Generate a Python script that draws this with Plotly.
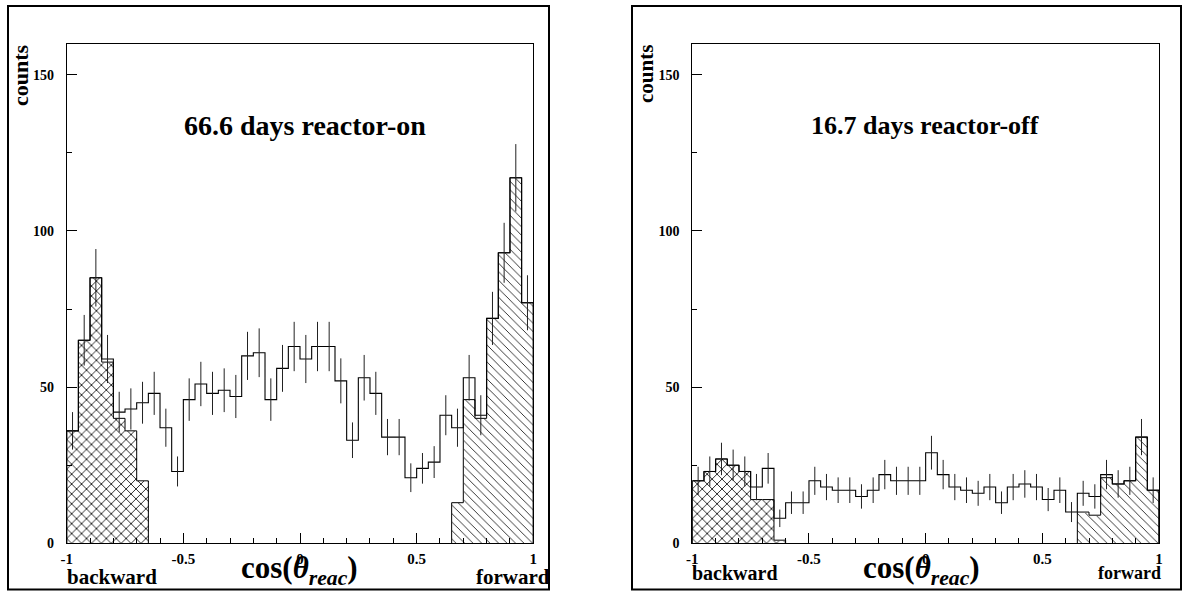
import numpy as np
import plotly.graph_objects as go

# ---------------- data ----------------
x_min, x_max, n_bins = -1.0, 1.0, 40
y_max = 160

# reactor-on (66.6 days): all events, per bin of cos(theta_reac)
on_counts = [36, 65, 85, 59, 42, 43, 45, 48, 37, 23,
             46, 51, 48, 49, 47, 60, 61, 46, 56, 63,
             59, 63, 63, 52, 33, 53, 48, 34, 34, 21,
             24, 26, 41, 37, 53, 41, 72, 93, 117, 77]
on_errors = [6.0, 8.1, 9.2, 7.7, 6.5, 6.6, 6.7, 6.9, 6.1, 4.8,
             6.8, 7.1, 6.9, 7.0, 6.9, 7.7, 7.8, 6.8, 7.5, 7.9,
             7.7, 7.9, 7.9, 7.2, 5.7, 7.3, 6.9, 5.8, 5.8, 4.6,
             4.9, 5.1, 6.4, 6.1, 7.3, 6.4, 8.5, 9.6, 10.8, 8.8]
on_backward = [36, 65, 85, 58, 40, 36, 20]          # first bins (cross-hatched)
on_forward = [13, 46, 40, 72, 93, 117, 77]          # last bins (hatched)

# reactor-off (16.7 days)
off_counts = [20, 23, 27, 25, 23, 18, 24, 8, 13, 13,
              20, 18, 17, 17, 15, 17, 22, 20, 20, 20,
              29, 22, 18, 17, 16, 18, 13, 18, 19, 18,
              14, 17, 10, 16, 15, 22, 19, 20, 34, 17]
off_errors = [4.5, 4.8, 5.2, 5.0, 4.8, 4.2, 4.9, 2.8, 3.6, 3.6,
              4.5, 4.2, 4.1, 4.1, 3.9, 4.1, 4.7, 4.5, 4.5, 4.5,
              5.4, 4.7, 4.2, 4.1, 4.0, 4.2, 3.6, 4.2, 4.4, 4.2,
              3.7, 4.1, 3.2, 4.0, 3.9, 4.7, 4.4, 4.5, 5.8, 4.1]
off_backward = [20, 23, 27, 25, 23, 14, 14, 1]
off_forward = [10, 9, 21, 19, 20, 34, 17]

x_tick_vals = [-1, -0.5, 0, 0.5, 1]
x_tick_text = ["-1", "-0.5", "0", "0.5", "1"]
y_tick_vals = [0, 50, 100, 150]
y_tick_text = ["0", "50", "100", "150"]
titles = ["66.6 days reactor-on", "16.7 days reactor-off"]

# ---------------- helpers ----------------
W, H = 1183, 591
SERIF = "Liberation Serif"
edges = np.linspace(x_min, x_max, n_bins + 1)
centers = 0.5 * (edges[:-1] + edges[1:])
bw = edges[1] - edges[0]


def step_xy(e, v):
    xs = [e[0]] + list(e[:-1]) + [e[-1], e[-1]]
    ys = [0] + list(v) + [v[-1], 0]
    return xs, ys


fig = go.Figure()

panels = [
    dict(xa="x", ya="y", counts=on_counts, errors=on_errors,
         back=on_backward, fwd=on_forward),
    dict(xa="x2", ya="y2", counts=off_counts, errors=off_errors,
         back=off_backward, fwd=off_forward),
]

for p in panels:
    nb, nf = len(p["back"]), len(p["fwd"])
    # hatched backward
    fig.add_trace(go.Bar(
        x=centers[:nb], y=p["back"], width=bw, xaxis=p["xa"], yaxis=p["ya"],
        marker=dict(color="white", line=dict(width=0),
                    pattern=dict(shape="x", fgcolor="black", bgcolor="white",
                                 size=7, solidity=0.22, fillmode="replace")),
        showlegend=False, hoverinfo="skip"))
    # hatched forward
    fig.add_trace(go.Bar(
        x=centers[n_bins - nf:], y=p["fwd"], width=bw, xaxis=p["xa"], yaxis=p["ya"],
        marker=dict(color="white", line=dict(width=0),
                    pattern=dict(shape="\\", fgcolor="black", bgcolor="white",
                                 size=6, solidity=0.13, fillmode="replace")),
        showlegend=False, hoverinfo="skip"))
    # outlines of hatched histograms
    for e, v in [(edges[:nb + 1], p["back"]), (edges[n_bins - nf:], p["fwd"])]:
        xs, ys = step_xy(e, v)
        fig.add_trace(go.Scatter(x=xs, y=ys, mode="lines", line_shape="hv",
                                 line=dict(color="black", width=1),
                                 xaxis=p["xa"], yaxis=p["ya"],
                                 showlegend=False, hoverinfo="skip"))
    # open histogram
    xs, ys = step_xy(edges, p["counts"])
    fig.add_trace(go.Scatter(x=xs, y=ys, mode="lines", line_shape="hv",
                             line=dict(color="black", width=1.1),
                             xaxis=p["xa"], yaxis=p["ya"],
                             showlegend=False, hoverinfo="skip"))
    # error bars
    fig.add_trace(go.Scatter(x=centers, y=p["counts"], mode="markers",
                             marker=dict(size=1, color="rgba(0,0,0,0)"),
                             error_y=dict(type="data", array=p["errors"], width=0,
                                          thickness=1, color="#222"),
                             xaxis=p["xa"], yaxis=p["ya"],
                             showlegend=False, hoverinfo="skip"))

y_dom = [1 - 543.3 / H, 1 - 43.5 / H]
x_doms = [[66.7 / W, 533.3 / W], [692.3 / W, 1159.0 / W]]

axis_common = dict(showline=True, mirror=True, linecolor="black", linewidth=1,
                   showgrid=False, zeroline=False, ticks="inside", ticklen=10,
                   tickwidth=1, tickcolor="black", automargin=False)

layout = dict(width=W, height=H, autosize=False,
              margin=dict(l=0, r=0, t=0, b=0, pad=0),
              paper_bgcolor="white", plot_bgcolor="white",
              barmode="overlay", bargap=0, showlegend=False)

for i, suf in enumerate(["", "2"]):
    layout["xaxis" + suf] = dict(
        axis_common, domain=x_doms[i], range=[x_min, x_max],
        anchor="y" + suf, tickmode="array", tickvals=x_tick_vals,
        ticktext=x_tick_text, ticklabelstandoff=2,
        tickfont=dict(family=SERIF, size=15, color="black", weight="bold"),
        minor=dict(ticks="inside", ticklen=5, tickwidth=1, tickcolor="black",
                   dtick=0.1, tick0=-1, showgrid=False))
    layout["yaxis" + suf] = dict(
        axis_common, domain=y_dom, range=[0, y_max],
        anchor="x" + suf, tickmode="array", tickvals=y_tick_vals,
        ticktext=y_tick_text, ticklabelstandoff=9,
        tickfont=dict(family=SERIF, size=14, color="black", weight="bold"),
        minor=dict(ticks="inside", ticklen=5, tickwidth=1, tickcolor="black",
                   dtick=25, tick0=0, showgrid=False))

fig.update_layout(**layout)

# outer frames
for x0, x1 in [(8, 549), (632, 1181)]:
    fig.add_shape(type="rect", xref="paper", yref="paper",
                  x0=x0 / W, x1=x1 / W, y0=1 - 589.5 / H, y1=1 - 6 / H,
                  line=dict(color="black", width=2), fillcolor="rgba(0,0,0,0)")


def ann(text, x, y, size, angle=0):
    fig.add_annotation(text=text, x=x / W, y=1 - y / H, xref="paper", yref="paper",
                       showarrow=False, textangle=angle, xanchor="center",
                       yanchor="middle",
                       font=dict(family=SERIF, size=size, color="black",
                                 weight="bold"))


ann(titles[0], 304.5, 126, 28)
ann(titles[1], 925, 126, 26)
ann("counts", 20, 75, 22, -90)
ann("counts", 646, 74, 21, -90)
ann("backward", 111.5, 577, 21)
ann("forward", 513, 577, 21)
ann("backward", 734.5, 573, 20)
ann("forward", 1129, 573, 18)
cos_txt = "cos(<i>θ</i><sub><i>reac</i></sub>)"
ann(cos_txt, 299, 570, 31)
ann(cos_txt, 921.5, 570, 31)

fig.write_html("out.html", config={"displayModeBar": False},
               post_script="document.body.style.margin='0';")
